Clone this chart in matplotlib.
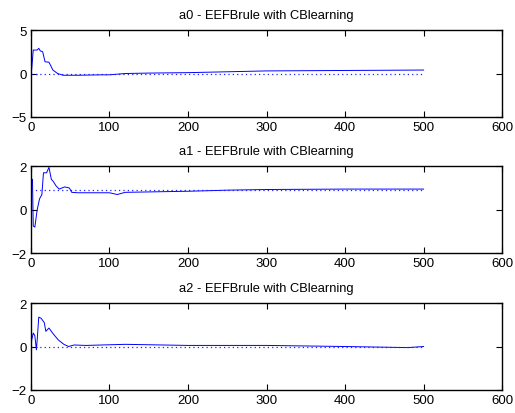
import matplotlib.pyplot as plt

plt.rcParams['font.family'] = ['Liberation Sans', 'DejaVu Sans']

# estimated parameter trajectories (iteration, value)
x_a0 = [0, 1, 3, 8, 10, 12, 15, 18, 23, 28, 34, 41, 60, 90, 100, 120, 150, 200, 250, 300, 400, 500]
y_a0 = [0, 0.5, 2.7, 2.7, 2.9, 2.6, 2.5, 1.35, 1.3, 0.4, 0.0, -0.2, -0.2, -0.15, -0.15, 0.0, 0.05, 0.1, 0.2, 0.3, 0.35, 0.4]
true_a0 = 0.0

x_a1 = [0, 2, 3, 5, 8, 11, 14, 16, 20, 23, 26, 28.5, 32, 36, 43, 49, 52, 60, 100, 110, 120, 200, 250, 300, 400, 500]
y_a1 = [1.4, 1.4, -0.75, -0.8, 0.0, 0.5, 0.7, 1.7, 1.7, 1.95, 1.4, 1.3, 1.1, 0.95, 1.05, 1.0, 0.8, 0.78, 0.78, 0.7, 0.8, 0.85, 0.9, 0.93, 0.95, 0.95]
true_a1 = 0.9

x_a2 = [0, 1, 3, 5, 7, 8, 10, 13, 17, 19, 23, 28, 35, 42, 48, 55, 70, 100, 120, 200, 300, 400, 480, 500]
y_a2 = [0, 0.3, 0.62, 0.5, -0.15, 0.3, 1.35, 1.3, 1.1, 0.7, 0.85, 0.6, 0.3, 0.1, 0.0, 0.07, 0.05, 0.08, 0.1, 0.05, 0.05, 0.0, -0.05, 0.0]
true_a2 = 0.0

titles = ['a0 - EEFBrule with CBlearning',
          'a1 - EEFBrule with CBlearning',
          'a2 - EEFBrule with CBlearning']
ylims = [(-5, 5), (-2, 2), (-2, 2)]
yticks = [[-5, 0, 5], [-2, 0, 2], [-2, 0, 2]]
bottoms = [0.715, 0.386, 0.0556]

series = [(x_a0, y_a0, true_a0), (x_a1, y_a1, true_a1), (x_a2, y_a2, true_a2)]

fig = plt.figure(figsize=(5.15, 4.14), dpi=100)
for i, (xs, ys, true_val) in enumerate(series):
    ax = fig.add_axes([0.060, bottoms[i], 0.915, 0.210])
    ax.plot(xs, ys, color='blue', lw=0.7)
    ax.plot([0, 500], [true_val, true_val], color='#2020ff', lw=0.9, linestyle=(0, (1, 2.5)))
    ax.set_xlim(0, 600)
    ax.set_ylim(*ylims[i])
    ax.set_xticks([0, 100, 200, 300, 400, 500, 600])
    ax.set_yticks(yticks[i])
    ax.tick_params(direction='in', top=True, right=True, labelsize=9.5, length=4, width=0.8, pad=3)
    for s in ax.spines.values():
        s.set_linewidth(1.0)
    ax.set_title(titles[i], fontsize=9.3, pad=9)

fig.savefig('out.png', dpi=100)
